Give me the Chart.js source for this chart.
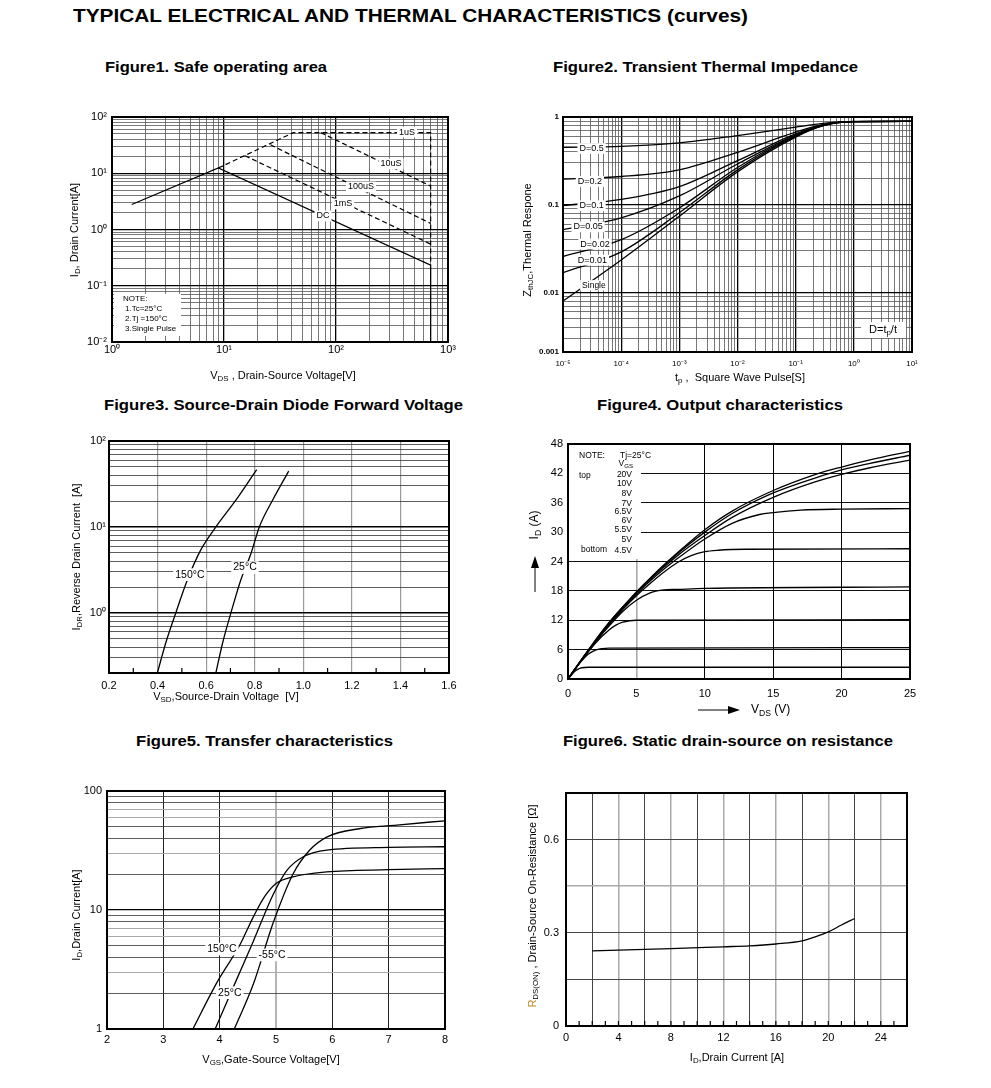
<!DOCTYPE html>
<html>
<head>
<meta charset="utf-8">
<script src="https://cdn.jsdelivr.net/npm/chart.js@4.4.1/dist/chart.umd.min.js"></script>
<style>
  body { margin: 0; background: #fff; width: 991px; height: 1088px; position: relative; overflow: hidden; font-family: "Liberation Sans", Arial, sans-serif; }
  canvas { position: absolute; }
  .ttl { position: absolute; font-weight: bold; white-space: nowrap; transform-origin: 0 50%; color: #000; }
</style>
</head>
<body>
<script>
// ---- Figure 1: safe operating area (VDS [V], ID [A])
const soaDcV = [1.5, 8.9, 700, 700];
const soaDcI = [2.78, 12.4, 0.233, 0.01];
const soa1usV = [8.9, 41.6, 700, 700];
const soa1usI = [12.4, 52.7, 52.7, 0.233];
const soa10usV = [73, 700];
const soa10usI = [52.7, 5.9];
const soa100usV = [26, 700];
const soa100usI = [32, 1.28];
const soa1msV = [15.4, 700];
const soa1msI = [20.5, 0.55];

// ---- Figure 2: transient thermal impedance
const tp = [1e-5, 1e-4, 1e-3, 1e-2, 1e-1, 3e-1, 1, 10];
const zD05 = [0.452, 0.462, 0.507, 0.615, 0.767, 0.845, 0.89, 0.89];
const zD02 = [0.196, 0.21, 0.25, 0.396, 0.672, 0.825, 0.885, 0.89];
const zD01 = [0.098, 0.115, 0.161, 0.318, 0.643, 0.815, 0.885, 0.89];
const zD005 = [0.052, 0.071, 0.126, 0.291, 0.627, 0.81, 0.885, 0.89];
const zD002 = [0.0257, 0.040, 0.092, 0.266, 0.615, 0.805, 0.885, 0.89];
const zD001 = [0.0168, 0.029, 0.081, 0.25, 0.605, 0.80, 0.885, 0.89];
const zSingle = [0.0080, 0.0235, 0.074, 0.237, 0.589, 0.795, 0.885, 0.89];

// ---- Figure 3: diode forward voltage
const vsd150 = [0.399, 0.434, 0.475, 0.523, 0.578, 0.64, 0.723, 0.808];
const idr150 = [0.2, 0.45, 1, 2.43, 5.41, 10, 20.6, 46.5];
const vsd25 = [0.64, 0.668, 0.702, 0.743, 0.785, 0.819, 0.874, 0.94];
const idr25 = [0.2, 0.45, 1, 2.43, 4.95, 10, 20.6, 44.6];

// ---- Figure 4: output characteristics
const vdsA = [0, 1, 2, 3, 4, 5, 6, 7, 8, 10, 12, 15, 18, 20, 22, 25];
const id20v = [0, 4, 7.9, 11.5, 14.7, 17.8, 20.6, 23.3, 25.8, 30.5, 34.3, 38.5, 41.7, 43.3, 44.7, 46.5];
const id10v = [0, 4, 7.9, 11.5, 14.7, 17.7, 20.5, 23.1, 25.6, 30.0, 33.8, 38.0, 41.0, 42.7, 44.0, 45.7];
const id8v = [0, 4, 7.8, 11.4, 14.6, 17.6, 20.3, 22.8, 25.2, 29.3, 33.0, 37.1, 40.2, 41.8, 43.1, 44.7];
const vds7 = [0, 1, 2, 3, 4, 5, 6, 7, 8, 10, 12, 14, 15, 17, 20, 25];
const id7v = [0, 3.9, 7.7, 11.2, 14.4, 17.3, 20.0, 22.4, 24.6, 28.6, 31.8, 33.6, 34.0, 34.5, 34.7, 34.8];
const vds65 = [0, 1, 2, 3, 4, 5, 6, 7, 8, 9, 10, 11, 13, 25];
const id65v = [0, 3.9, 7.6, 11, 14.2, 17, 19.5, 21.8, 23.8, 25.2, 26, 26.3, 26.5, 26.6];
const vds6 = [0, 1, 2, 3, 4, 5, 6, 6.5, 7, 8, 10, 25];
const id6v = [0, 3.9, 7.5, 10.8, 13.8, 16.1, 17.6, 18, 18.2, 18.3, 18.5, 18.8];
const vds55 = [0, 1, 2, 3, 3.5, 4, 4.5, 5, 6, 25];
const id55v = [0, 3.8, 7.3, 10, 11, 11.6, 11.9, 12, 12, 12.1];
const vds5 = [0, 0.5, 1, 1.5, 2, 2.5, 3, 25];
const id5v = [0, 2, 3.7, 5.1, 5.9, 6.2, 6.3, 6.4];
const vds45 = [0, 0.5, 0.8, 1, 1.5, 25];
const id45v = [0, 1.6, 2.1, 2.3, 2.4, 2.4];

// ---- Figure 5: transfer characteristics
const vgs150 = [3.525, 3.95, 4.36, 4.6, 4.8, 5.0, 5.3, 5.9, 7.0, 8.0];
const idT150 = [1, 2.45, 5.1, 8.8, 13.0, 16.7, 19.0, 20.9, 21.8, 22.3];
const vgs25 = [3.92, 4.3, 4.6, 4.95, 5.2, 5.5, 5.9, 7.0, 8.0];
const idT25 = [1, 2.6, 5.5, 13.5, 21.7, 28.3, 31.9, 33.6, 34.0];
const vgsM55 = [4.26, 4.6, 4.95, 5.3, 5.6, 5.9, 6.5, 7.1, 8.0];
const idTM55 = [1, 2.4, 7.8, 20.0, 31.9, 41, 48.4, 51.5, 56.2];

// ---- Figure 6: on resistance
const rdsId = [2, 4, 8, 12, 14, 16, 18, 19, 20, 21, 22];
const rdsOhm = [0.242, 0.244, 0.249, 0.255, 0.258, 0.264, 0.274, 0.287, 0.303, 0.325, 0.346];

// ---- tick lists
const f3xTicks = [0.2, 0.4, 0.6, 0.8, 1.0, 1.2, 1.4, 1.6];
const f4xTicks = [0, 5, 10, 15, 20, 25];
const f4yTicks = [0, 6, 12, 18, 24, 30, 36, 42, 48];
const f5xTicks = [2, 3, 4, 5, 6, 7, 8];
const f6xTicks = [0, 2, 4, 6, 8, 10, 12, 14, 16, 18, 20, 22, 24, 26];
const f6yTicks = [0, 0.15, 0.3, 0.45, 0.6, 0.75];

const FONT = '"Liberation Sans", Arial, Helvetica, sans-serif';
Chart.defaults.font.family = FONT;
Chart.defaults.color = '#000';

// page titles
const figTitles = [
  ['TYPICAL ELECTRICAL AND THERMAL CHARACTERISTICS (curves)', 73, 748, 17, 18],
  ['Figure1. Safe operating area', 105, 327, 67, 15],
  ['Figure2. Transient Thermal Impedance', 553, 858, 67, 15],
  ['Figure3. Source-Drain Diode Forward Voltage', 104, 463, 405, 15],
  ['Figure4. Output characteristics', 597, 843, 405, 15],
  ['Figure5. Transfer characteristics', 136, 393, 741, 15],
  ['Figure6. Static drain-source on resistance', 563, 893, 741, 15]
];
figTitles.forEach(([txt, x0, x1, cy, size]) => {
  const d = document.createElement('div');
  d.className = 'ttl';
  d.textContent = txt;
  d.style.left = x0 + 'px';
  d.style.top = (cy - size * 0.6) + 'px';
  d.style.fontSize = size + 'px';
  d.style.lineHeight = (size * 1.2) + 'px';
  document.body.appendChild(d);
  const w = d.getBoundingClientRect().width;
  d.style.transform = 'scaleX(' + ((x1 - x0) / w) + ')';
});

// helpers
const SUP = { '-': '⁻', '0': '⁰', '1': '¹', '2': '²', '3': '³', '4': '⁴', '5': '⁵', '6': '⁶', '7': '⁷', '8': '⁸', '9': '⁹' };
function isPow(v) { const l = Math.log10(v); return Math.abs(l - Math.round(l)) < 1e-6; }
function pow10(v) { return '10' + String(Math.round(Math.log10(v))).split('').map(c => SUP[c]).join(''); }
function logTicks(min, max) {
  const out = [];
  for (let e = Math.floor(Math.log10(min)); e <= Math.ceil(Math.log10(max)); e++) {
    for (let m = 1; m < 10; m++) {
      const v = m * Math.pow(10, e);
      if (v >= min * 0.999 && v <= max * 1.001) out.push(v);
    }
  }
  return out;
}
function pts(xs, ys) { return xs.map((x, i) => ({ x: x, y: ys[i] })); }
function curve(xs, ys, extra) {
  return Object.assign({ data: pts(xs, ys), borderColor: '#000', borderWidth: 1.3, pointRadius: 0, fill: false, cubicInterpolationMode: 'monotone' }, extra || {});
}
const straight = { cubicInterpolationMode: 'default', tension: 0 };
const dashed = { cubicInterpolationMode: 'default', tension: 0, borderDash: [5, 3], borderWidth: 1.2 };

function axis(type, min, max, list, label, gridFn, tick) {
  return {
    type: type, min: min, max: max,
    afterBuildTicks: s => { s.ticks = list.map(v => ({ value: v })); },
    ticks: Object.assign({ autoSkip: false, maxRotation: 0, minRotation: 0, callback: label, font: { size: 11 }, color: '#000', padding: 3 }, tick || {}),
    grid: {
      drawTicks: false,
      color: c => c.tick ? gridFn(c.tick.value)[0] : '#000',
      lineWidth: c => c.tick ? gridFn(c.tick.value)[1] : 1
    },
    border: { display: false }
  };
}
const logGrid = v => isPow(v) ? ['#000', 1.3] : ['#555', 0.8];

function drawRich(ctx, x, y, segs, size, align, rot, bg, bold) {
  ctx.save();
  ctx.translate(x, y);
  if (rot) ctx.rotate(-Math.PI / 2);
  const parts = segs.map(s => {
    const k = s[1] || '';
    const fs = k ? size * 0.72 : size;
    ctx.font = (bold ? 'bold ' : '') + fs + 'px ' + FONT;
    return { t: s[0], k: k, fs: fs, w: ctx.measureText(s[0]).width, c: s[2] || '#000' };
  });
  const w = parts.reduce((a, p) => a + p.w, 0);
  let cx = align === 'center' ? -w / 2 : align === 'right' ? -w : 0;
  if (bg) { ctx.fillStyle = '#fff'; ctx.fillRect(cx - 2, -size * 0.6, w + 4, size * 1.2); }
  ctx.textBaseline = 'middle';
  ctx.textAlign = 'left';
  parts.forEach(p => {
    ctx.font = (bold ? 'bold ' : '') + p.fs + 'px ' + FONT;
    ctx.fillStyle = p.c;
    const dy = p.k === 'sub' ? size * 0.28 : p.k === 'sup' ? -size * 0.35 : 0;
    ctx.fillText(p.t, cx, dy);
    cx += p.w;
  });
  ctx.restore();
}

const deco = {
  id: 'deco',
  beforeDatasetsDraw(chart) {
    const o = chart.canvas.$deco, ctx = chart.ctx;
    (o.boxes || []).forEach(b => {
      ctx.save();
      ctx.fillStyle = '#fff';
      ctx.fillRect(b.l - o.cell.l, b.t - o.cell.t, b.r - b.l, b.b - b.t);
      ctx.restore();
    });
  },
  afterDatasetsDraw(chart) {
    const o = chart.canvas.$deco, ctx = chart.ctx, a = chart.chartArea;
    const sx = chart.scales.x, sy = chart.scales.y;
    ctx.save();
    ctx.strokeStyle = '#000';
    if (o.minorX) {
      ctx.lineWidth = 1.2;
      o.minorX.forEach(v => {
        const px = sx.getPixelForValue(v);
        ctx.beginPath(); ctx.moveTo(px, a.bottom); ctx.lineTo(px, a.bottom - 5); ctx.stroke();
      });
    }
    ctx.lineWidth = 2;
    ctx.strokeRect(a.left, a.top, a.right - a.left, a.bottom - a.top);
    (o.arrows || []).forEach(r => {
      const x1 = r[0] - o.cell.l, y1 = r[1] - o.cell.t, x2 = r[2] - o.cell.l, y2 = r[3] - o.cell.t;
      const ang = Math.atan2(y2 - y1, x2 - x1);
      ctx.lineWidth = 1;
      ctx.beginPath(); ctx.moveTo(x1, y1); ctx.lineTo(x2, y2); ctx.stroke();
      ctx.fillStyle = '#000';
      ctx.beginPath();
      ctx.moveTo(x2 + 4 * Math.cos(ang), y2 + 4 * Math.sin(ang));
      ctx.lineTo(x2 - 8 * Math.cos(ang) - 4 * Math.sin(ang), y2 - 8 * Math.sin(ang) + 4 * Math.cos(ang));
      ctx.lineTo(x2 - 8 * Math.cos(ang) + 4 * Math.sin(ang), y2 - 8 * Math.sin(ang) - 4 * Math.cos(ang));
      ctx.closePath(); ctx.fill();
    });
    ctx.restore();
    (o.labels || []).forEach(l => drawRich(ctx, sx.getPixelForValue(l.x), sy.getPixelForValue(l.y), l.segs, l.size, 'center', false, true));
    (o.texts || []).forEach(t => drawRich(ctx, t.x - o.cell.l, t.y - o.cell.t, t.segs, t.size, t.align || 'center', t.rot, t.bg, t.bold));
  }
};
Chart.register(deco);

function plot(cell, box, datasets, xAxis, yAxis, decoCfg) {
  const cv = document.createElement('canvas');
  const w = cell.r - cell.l, h = cell.b - cell.t;
  cv.width = w; cv.height = h;
  cv.style.left = cell.l + 'px'; cv.style.top = cell.t + 'px';
  cv.style.width = w + 'px'; cv.style.height = h + 'px';
  document.body.appendChild(cv);
  decoCfg.cell = cell;
  cv.$deco = decoCfg;
  xAxis.afterFit = s => { s.height = cell.b - box.b; };
  yAxis.afterFit = s => { s.width = box.l - cell.l; };
  return new Chart(cv, {
    type: 'line',
    data: { datasets: datasets },
    options: {
      responsive: false,
      animation: false,
      layout: { padding: { top: box.t - cell.t, right: cell.r - box.r, left: 0, bottom: 0 } },
      plugins: { legend: { display: false }, tooltip: { enabled: false } },
      scales: { x: xAxis, y: yAxis }
    }
  });
}

// ---------- Figure 1
plot({ l: 40, t: 100, r: 470, b: 395 }, { l: 112, t: 117, r: 448, b: 342 },
  [
    curve(soaDcV, soaDcI, straight),
    curve(soa1usV, soa1usI, dashed),
    curve(soa10usV, soa10usI, dashed),
    curve(soa100usV, soa100usI, dashed),
    curve(soa1msV, soa1msI, dashed)
  ],
  axis('logarithmic', 1, 1000, logTicks(1, 1000), v => isPow(v) ? pow10(v) : '', logGrid, { padding: 1 }),
  axis('logarithmic', 0.01, 100, logTicks(0.01, 100), v => isPow(v) ? pow10(v) : '', logGrid, { padding: 5 }),
  {
    boxes: [{ l: 114, t: 294, r: 181, b: 336 }],
    labels: [
      { x: 430, y: 54, segs: [['1uS']], size: 9 },
      { x: 310, y: 14.6, segs: [['10uS']], size: 9 },
      { x: 167, y: 5.7, segs: [['100uS']], size: 9 },
      { x: 115.5, y: 2.84, segs: [['1mS']], size: 9 },
      { x: 76.6, y: 1.74, segs: [['DC']], size: 9 }
    ],
    texts: [
      { x: 123, y: 299, align: 'left', segs: [['NOTE:']], size: 8 },
      { x: 125, y: 309, align: 'left', segs: [['1.Tc=25°C']], size: 8 },
      { x: 125, y: 319, align: 'left', segs: [['2.Tj =150°C']], size: 8 },
      { x: 125, y: 329, align: 'left', segs: [['3.Single Pulse']], size: 8 },
      { x: 75, y: 230, rot: true, segs: [['I'], ['D', 'sub'], [', Drain Current[A]']], size: 11 },
      { x: 283, y: 376, segs: [['V'], ['DS', 'sub'], [' , Drain-Source Voltage[V]']], size: 11 }
    ]
  });

// ---------- Figure 2
const f2yMin = 0.0021;
plot({ l: 500, t: 100, r: 930, b: 395 }, { l: 563, t: 117, r: 912, b: 352 },
  [
    curve(tp, zD05), curve(tp, zD02), curve(tp, zD01), curve(tp, zD005),
    curve(tp, zD002), curve(tp, zD001), curve(tp, zSingle)
  ],
  axis('logarithmic', 1e-5, 10, logTicks(1e-5, 10), v => isPow(v) ? pow10(v) : '', logGrid, { padding: 7, font: { size: 8 } }),
  axis('logarithmic', f2yMin, 1, [f2yMin].concat(logTicks(0.003, 1)),
    v => v === f2yMin ? '0.001' : isPow(v) ? ['0.01', '0.1', '1'][Math.round(Math.log10(v)) + 2] : '',
    logGrid, { padding: 4, font: { size: 8, weight: 'bold' } }),
  {
    boxes: [{ l: 861, t: 322, r: 906, b: 338 }],
    labels: [
      { x: 3.1e-5, y: 0.437, segs: [['D=0.5']], size: 9 },
      { x: 2.9e-5, y: 0.184, segs: [['D=0.2']], size: 9 },
      { x: 3.1e-5, y: 0.0975, segs: [['D=0.1']], size: 9 },
      { x: 2.7e-5, y: 0.056, segs: [['D=0.05']], size: 9 },
      { x: 3.55e-5, y: 0.0357, segs: [['D=0.02']], size: 9 },
      { x: 3.2e-5, y: 0.0234, segs: [['D=0.01']], size: 9 },
      { x: 3.4e-5, y: 0.0121, segs: [['Single']], size: 8.5 }
    ],
    texts: [
      { x: 883, y: 330, segs: [['D=t'], ['p', 'sub'], ['/t']], size: 11 },
      { x: 528, y: 240, rot: true, segs: [['Z'], ['thJC', 'sub'], [',Thermal Respone']], size: 11 },
      { x: 740, y: 378, segs: [['t'], ['p', 'sub'], [' ,  Square Wave Pulse[S]']], size: 11 }
    ]
  });

// ---------- Figure 3
const minor3 = [];
for (let v = 0.3; v < 1.6; v += 0.2) minor3.push(v);
plot({ l: 40, t: 425, r: 480, b: 712 }, { l: 109, t: 441, r: 449, b: 673 },
  [curve(vsd150, idr150), curve(vsd25, idr25)],
  axis('linear', 0.2, 1.6, f3xTicks, v => v.toFixed(1), () => ['#9a9a9a', 1.2], { padding: 6 }),
  axis('logarithmic', 0.2, 100, logTicks(0.2, 100), v => isPow(v) ? pow10(v) : '', v => isPow(v) ? ['#000', 1.6] : ['#333', 0.8], { padding: 3 }),
  {
    minorX: minor3,
    labels: [
      { x: 0.533, y: 2.79, segs: [['150°C']], size: 10.5 },
      { x: 0.76, y: 3.37, segs: [['25°C']], size: 10.5 }
    ],
    texts: [
      { x: 77, y: 557, rot: true, segs: [['I'], ['DR', 'sub'], [',Reverse Drain Current  [A]']], size: 11 },
      { x: 226, y: 697, segs: [['V'], ['SD', 'sub'], [',Source-Drain Voltage  [V]']], size: 11 }
    ]
  });

// ---------- Figure 4
plot({ l: 500, t: 425, r: 930, b: 722 }, { l: 568, t: 444, r: 910, b: 679 },
  [
    curve(vdsA, id20v), curve(vdsA, id10v), curve(vdsA, id8v), curve(vds7, id7v),
    curve(vds65, id65v), curve(vds6, id6v), curve(vds55, id55v), curve(vds5, id5v), curve(vds45, id45v)
  ],
  axis('linear', 0, 25, f4xTicks, v => String(v), v => v === 5 ? ['#aaa', 1.6] : ['#000', 1], { padding: 8 }),
  axis('linear', 0, 48, f4yTicks, v => String(v), () => ['#111', 1], { padding: 5 }),
  {
    boxes: [{ l: 569, t: 445, r: 641, b: 559 }],
    texts: [
      { x: 579, y: 456, align: 'left', segs: [['NOTE:']], size: 8.5 },
      { x: 620, y: 456, align: 'left', segs: [['Tj=25°C']], size: 8.5 },
      { x: 633, y: 464, align: 'right', segs: [['V'], ['GS', 'sub']], size: 8.5 },
      { x: 579, y: 476, align: 'left', segs: [['top']], size: 8.5 },
      { x: 632, y: 475, align: 'right', segs: [['20V']], size: 8.5 },
      { x: 632, y: 484, align: 'right', segs: [['10V']], size: 8.5 },
      { x: 632, y: 493.5, align: 'right', segs: [['8V']], size: 8.5 },
      { x: 632, y: 504, align: 'right', segs: [['7V']], size: 8.5 },
      { x: 632, y: 512, align: 'right', segs: [['6.5V']], size: 8.5 },
      { x: 632, y: 521, align: 'right', segs: [['6V']], size: 8.5 },
      { x: 632, y: 530, align: 'right', segs: [['5.5V']], size: 8.5 },
      { x: 632, y: 540, align: 'right', segs: [['5V']], size: 8.5 },
      { x: 581, y: 550, align: 'left', segs: [['bottom']], size: 8.5 },
      { x: 632, y: 551, align: 'right', segs: [['4.5V']], size: 8.5 },
      { x: 535, y: 525, rot: true, segs: [['I'], ['D', 'sub'], [' (A)']], size: 12 },
      { x: 751, y: 710, align: 'left', segs: [['V'], ['DS', 'sub'], [' (V)']], size: 12 }
    ],
    arrows: [[535, 592, 535, 560], [698, 710, 736, 710]]
  });

// ---------- Figure 5
plot({ l: 40, t: 770, r: 470, b: 1075 }, { l: 107, t: 791, r: 445, b: 1029 },
  [curve(vgs150, idT150), curve(vgs25, idT25), curve(vgsM55, idTM55)],
  axis('linear', 2, 8, f5xTicks, v => String(v), v => v === 5 ? ['#b5b5b5', 2] : ['#222', 1], { padding: 4 }),
  axis('logarithmic', 1, 100, logTicks(1, 100), v => isPow(v) ? String(Math.round(v)) : '',
    v => isPow(v) ? ['#000', 1.2] : ([3, 6, 7, 30, 60, 70].indexOf(Math.round(v)) >= 0 ? ['#aaa', 1] : ['#333', 0.8]), { padding: 5 }),
  {
    labels: [
      { x: 4.04, y: 4.7, segs: [['150°C']], size: 10.5 },
      { x: 4.93, y: 4.19, segs: [['-55°C']], size: 10.5 },
      { x: 4.18, y: 2.02, segs: [['25°C']], size: 10.5 }
    ],
    texts: [
      { x: 77, y: 915, rot: true, segs: [['I'], ['D', 'sub'], [',Drain Current[A]']], size: 11 },
      { x: 271, y: 1060, segs: [['V'], ['GS', 'sub'], [',Gate-Source Voltage[V]']], size: 11 }
    ]
  });

// ---------- Figure 6
const minor6 = [];
for (let v = 1; v <= 25; v++) minor6.push(v);
plot({ l: 500, t: 770, r: 930, b: 1075 }, { l: 566, t: 793, r: 907, b: 1026 },
  [curve(rdsId, rdsOhm)],
  axis('linear', 0, 26, f6xTicks, v => (v % 4 === 0 && v <= 24) ? String(v) : '', v => v % 4 === 0 ? ['#aaa', 1.5] : ['#444', 1], { padding: 5 }),
  axis('linear', 0, 0.75, f6yTicks, v => v === 0 ? '0' : (Math.abs(v - 0.3) < 1e-6 || Math.abs(v - 0.6) < 1e-6) ? v.toFixed(1) : '',
    v => Math.abs(v - 0.45) < 1e-6 ? ['#aaa', 1.5] : ['#444', 1], { padding: 7 }),
  {
    minorX: minor6,
    texts: [
      { x: 533, y: 906, rot: true, segs: [['R', '', '#c08a2a'], ['DS(ON)', 'sub'], [' , Drain-Source On-Resistance [Ω]']], size: 11 },
      { x: 737, y: 1058, segs: [['I'], ['D', 'sub'], [',Drain Current [A]']], size: 11 }
    ]
  });
</script>
</body>
</html>
